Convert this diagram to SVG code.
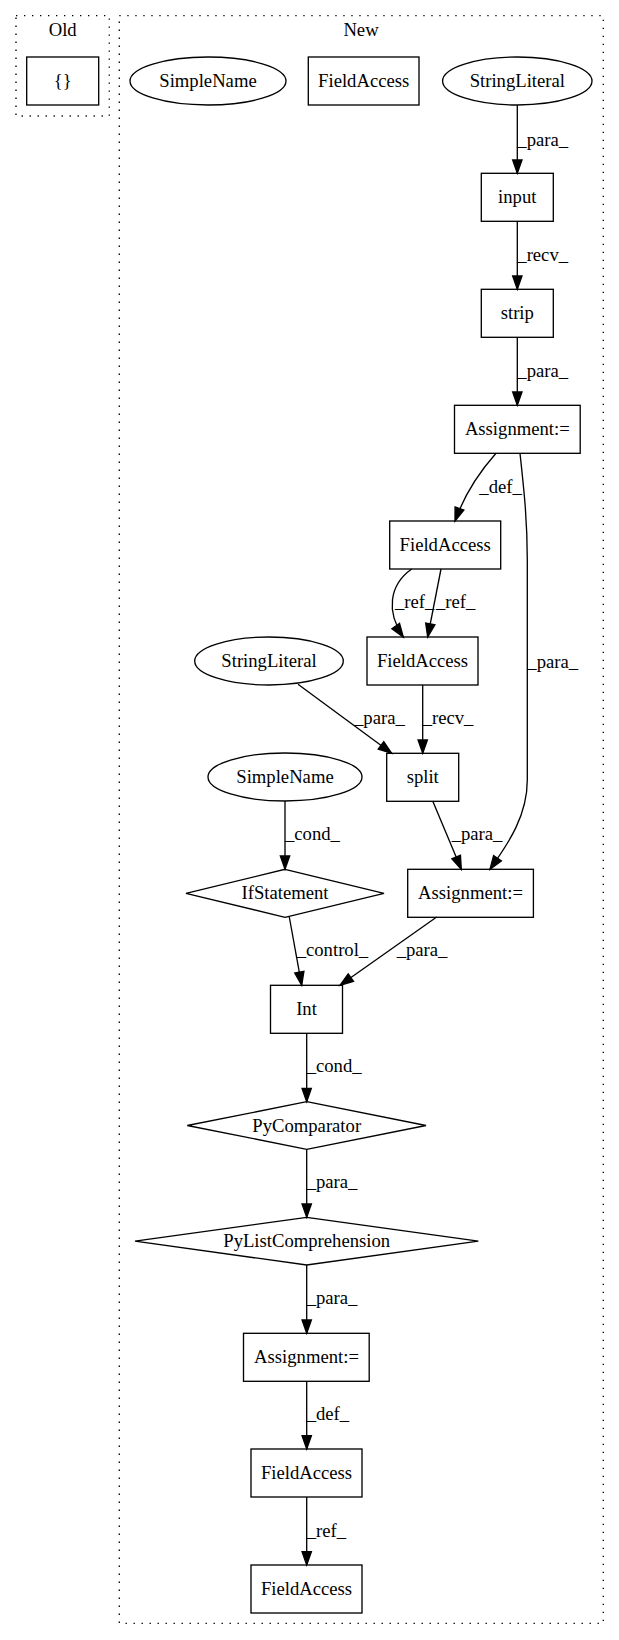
<svg xmlns="http://www.w3.org/2000/svg" width="619" height="1640" viewBox="0 0 619 1640">
<defs>
<style>
text{font-family:"Liberation Serif","Times New Roman",serif;font-size:18.67px;fill:#000}
.n text,.cl text{text-anchor:middle}
.n rect,.n ellipse,.n polygon{fill:none;stroke:#000;stroke-width:1.33}
.cl rect{fill:none;stroke:#000;stroke-width:1.33;stroke-dasharray:1.33,6.67}
.e path{fill:none;stroke:#000;stroke-width:1.33;marker-end:url(#ah)}
</style>
<marker id="ah" markerWidth="16" markerHeight="12" refX="13.33" refY="4.67" orient="auto" markerUnits="userSpaceOnUse" overflow="visible">
<path d="M0,0 L13.33,4.67 L0,9.33 z" fill="#000" stroke="#000" stroke-width="1.33"/>
</marker>
</defs>
<rect width="619" height="1640" fill="#fff"/>
<g class="cl" id="cluster_old"><rect x="16" y="15.7" width="93.3" height="100.3"/><text x="62.7" y="35.7">Old</text></g>
<g class="cl" id="cluster_new"><rect x="119.3" y="15.7" width="484" height="1607.6"/><text x="361" y="35.7">New</text></g>

<g class="e" id="edges">
<path d="M517.3,105.3 L517.3,173.3"/>
<path d="M517.3,221 L517.3,289.3"/>
<path d="M517.3,337 L517.3,405.3"/>
<path d="M496,453.3 C483,468 466,490 455,521"/>
<path d="M520,453.3 C524,490 527.3,520 527.3,560 L527.3,780 C527.3,820 503,850 490,869.3"/>
<path d="M411.7,569 C389,585 386,612 403.3,637"/>
<path d="M441,569 L427.7,637"/>
<path d="M298,684.3 L391.7,753.3"/>
<path d="M422.7,685 L422.7,753.3"/>
<path d="M432.7,801 L461.3,869.3"/>
<path d="M285,801 L285,869.3"/>
<path d="M289.3,917 L301.7,985.3"/>
<path d="M436.7,917 L340,985.3"/>
<path d="M306.7,1033 L306.7,1101.7"/>
<path d="M306.7,1149.3 L306.7,1217.3"/>
<path d="M306.7,1265 L306.7,1333.3"/>
<path d="M306.7,1381 L306.7,1449"/>
<path d="M306.7,1497 L306.7,1565"/>
<text x="517.3" y="145.5">_para_</text>
<text x="517.3" y="260.5">_recv_</text>
<text x="517.3" y="376.5">_para_</text>
<text x="479.3" y="492.5">_def_</text>
<text x="527.3" y="668">_para_</text>
<text x="395" y="607.5">_ref_</text>
<text x="436" y="607.5">_ref_</text>
<text x="354" y="723.5">_para_</text>
<text x="422.7" y="723.5">_recv_</text>
<text x="451.7" y="840">_para_</text>
<text x="285" y="840">_cond_</text>
<text x="296.7" y="956">_control_</text>
<text x="396.7" y="956">_para_</text>
<text x="306.7" y="1072">_cond_</text>
<text x="306.7" y="1188">_para_</text>
<text x="306.7" y="1304">_para_</text>
<text x="306.7" y="1420">_def_</text>
<text x="306.7" y="1536.5">_ref_</text>
</g>

<g class="n" id="old_braces"><rect x="26.7" y="57" width="72" height="48"/><text x="62.7" y="87">{}</text></g>
<g class="n" id="simplename_top"><ellipse cx="208" cy="81" rx="78" ry="24"/><text x="208" y="87">SimpleName</text></g>
<g class="n" id="fieldaccess_top"><rect x="308.3" y="57" width="110.7" height="48"/><text x="363.7" y="87">FieldAccess</text></g>
<g class="n" id="stringliteral_top"><ellipse cx="517.3" cy="81" rx="74.7" ry="24"/><text x="517.3" y="87">StringLiteral</text></g>
<g class="n" id="input"><rect x="481.3" y="173.3" width="72" height="48"/><text x="517.3" y="203">input</text></g>
<g class="n" id="strip"><rect x="481.3" y="289.3" width="72" height="48"/><text x="517.3" y="319">strip</text></g>
<g class="n" id="assign1"><rect x="454.5" y="405.3" width="125.7" height="48"/><text x="517.3" y="435">Assignment:=</text></g>
<g class="n" id="fieldaccess2"><rect x="389.7" y="521" width="111" height="48"/><text x="445.2" y="551">FieldAccess</text></g>
<g class="n" id="fieldaccess3"><rect x="367" y="637" width="111" height="48"/><text x="422.5" y="667">FieldAccess</text></g>
<g class="n" id="stringliteral2"><ellipse cx="269" cy="661" rx="74.3" ry="24"/><text x="269" y="667">StringLiteral</text></g>
<g class="n" id="split"><rect x="386.7" y="753.3" width="72" height="48"/><text x="422.7" y="783">split</text></g>
<g class="n" id="simplename2"><ellipse cx="285" cy="777" rx="77" ry="24"/><text x="285" y="783">SimpleName</text></g>
<g class="n" id="ifstatement"><polygon points="285,869.3 384,893.3 285,917.3 186,893.3"/><text x="285" y="899">IfStatement</text></g>
<g class="n" id="assign2"><rect x="407.7" y="869.3" width="125.7" height="48"/><text x="470.5" y="899">Assignment:=</text></g>
<g class="n" id="int"><rect x="270.5" y="985.3" width="72" height="48"/><text x="306.5" y="1015">Int</text></g>
<g class="n" id="pycomparator"><polygon points="306.7,1101.7 426,1125.5 306.7,1149.3 187.3,1125.5"/><text x="306.7" y="1131.5">PyComparator</text></g>
<g class="n" id="pylistcomp"><polygon points="306.7,1217.3 478.3,1241.2 306.7,1265 135,1241.2"/><text x="306.7" y="1247">PyListComprehension</text></g>
<g class="n" id="assign3"><rect x="243.5" y="1333.3" width="125.7" height="48"/><text x="306.5" y="1363">Assignment:=</text></g>
<g class="n" id="fieldaccess4"><rect x="251" y="1449" width="111" height="48"/><text x="306.5" y="1479">FieldAccess</text></g>
<g class="n" id="fieldaccess5"><rect x="251" y="1565" width="111" height="48"/><text x="306.5" y="1595">FieldAccess</text></g>
</svg>
